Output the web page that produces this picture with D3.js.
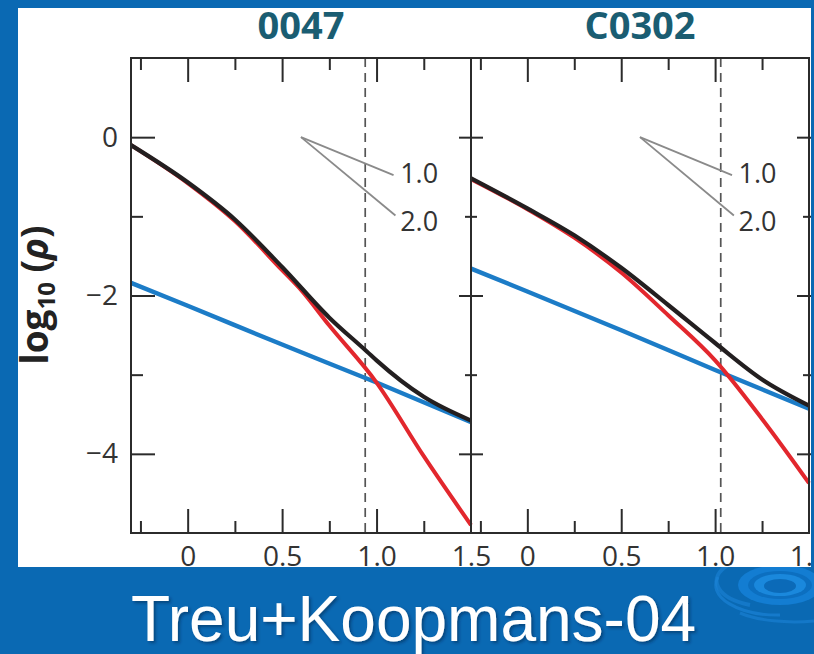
<!DOCTYPE html>
<html><head><meta charset="utf-8">
<script src="https://cdn.jsdelivr.net/npm/d3@7"></script>
<style>body{margin:0;padding:0;background:#0a69b3}svg{display:block}</style>
</head><body>
<script>
// ---------- data ----------
const panelNames = ["0047", "C0302"];
const xMajorTicks = [0, 0.5, 1.0, 1.5];
const xMinorTicks = [-0.25, 0.25, 0.75, 1.25];
const yMajorTicks = [0, -2, -4];
const yMinorTicks = [-1, -3];
const xTickLabels = ["0", "0.5", "1.0", "1.5"];
const yTickLabels = ["0", "\u22122", "\u22124"];

// panel 0047
const black0047X = [-0.3, 0, 0.25, 0.5, 0.75, 0.95, 1.0, 1.25, 1.5];
const black0047Y = [-0.10, -0.57, -1.04, -1.64, -2.28, -2.71, -2.82, -3.28, -3.58];
const red0047X   = [-0.3, 0, 0.25, 0.5, 0.6, 0.75, 1.0, 1.25, 1.5];
const red0047Y   = [-0.10, -0.58, -1.06, -1.68, -1.93, -2.38, -3.10, -4.03, -4.90];
const blue0047X  = [-0.3, 0, 0.5, 1.0, 1.5];
const blue0047Y  = [-1.84, -2.13, -2.62, -3.10, -3.60];
const dash0047 = 0.94;

// panel C0302
const blackC0302X = [-0.3, 0, 0.25, 0.5, 0.75, 1.0, 1.25, 1.5];
const blackC0302Y = [-0.52, -0.90, -1.24, -1.65, -2.12, -2.60, -3.06, -3.39];
const redC0302X   = [-0.3, 0, 0.25, 0.5, 0.75, 1.0, 1.25, 1.5];
const redC0302Y   = [-0.53, -0.91, -1.27, -1.71, -2.25, -2.82, -3.56, -4.37];
const blueC0302X  = [-0.3, 0, 0.5, 1.0, 1.5];
const blueC0302Y  = [-1.66, -1.95, -2.44, -2.94, -3.43];
const dashC0302 = 1.03;

// slope guide annotation (data coords)
const guideStart = [0.6, 0];
const guideEnds = [[1.09, -0.48], [1.10, -0.99]];
const guideLabels = ["1.0", "2.0"];
const guideLabelPos = [[1.125, -0.58], [1.125, -1.18]];

const footer = "Treu+Koopmans-04";

// ---------- drawing ----------
const W = 814, H = 654;
const svg = d3.select("body").append("svg").attr("width", W).attr("height", H);
const defs = svg.append("defs");
defs.append("clipPath").attr("id", "clipWhite").append("rect")
  .attr("x", 18).attr("y", 8).attr("width", 793).attr("height", 559);
const sh = defs.append("filter").attr("id", "shadow").attr("x", "-5%").attr("y", "-20%").attr("width", "110%").attr("height", "140%");
sh.append("feDropShadow").attr("dx", 2).attr("dy", 2).attr("stdDeviation", 1.5)
  .attr("flood-color", "#002244").attr("flood-opacity", 0.5);

svg.append("rect").attr("width", W).attr("height", H).attr("fill", "#0a69b3");

// swirl decoration
const sw = svg.append("g").attr("transform", "translate(780,585)");
sw.append("path").attr("d", "M-62,-8 A62,30 0 0,0 0,30").attr("fill", "none").attr("stroke", "#1a82d6").attr("stroke-width", 3).attr("opacity", 0.7);
sw.append("path").attr("d", "M-52,-20 A54,26 0 0,0 -30,20").attr("fill", "none").attr("stroke", "#1a82d6").attr("stroke-width", 4).attr("opacity", 0.6);
sw.append("path").attr("d", "M-40,28 A70,24 0 0,0 34,36").attr("fill", "none").attr("stroke", "#1a82d6").attr("stroke-width", 3).attr("opacity", 0.6);
sw.append("ellipse").attr("rx", 42).attr("ry", 20).attr("fill", "#137dd2");
sw.append("ellipse").attr("rx", 32).attr("ry", 14).attr("fill", "#0c6fc0");
sw.append("ellipse").attr("rx", 26).attr("ry", 11).attr("fill", "#1a88dc");
sw.append("ellipse").attr("cy", 1).attr("rx", 16).attr("ry", 7).attr("fill", "#0b6ab8");

svg.append("rect").attr("x", 18).attr("y", 8).attr("width", 793).attr("height", 559).attr("fill", "#fff");

const g = svg.append("g").attr("clip-path", "url(#clipWhite)");

const y = d3.scaleLinear().domain([-5, 1]).range([533, 58]);
const fontTick = "'Open Sans', 'Noto Sans', sans-serif";
const axisColor = "#2b2b2b";

const panels = [
  {name: panelNames[0], range: [131, 471], dash: dash0047,
   series: [
     {x: blue0047X, y: blue0047Y, color: "#1c7cc7", w: 4.4},
     {x: red0047X, y: red0047Y, color: "#e2272d", w: 4},
     {x: black0047X, y: black0047Y, color: "#231f20", w: 4.2}],
   leftTicks: 24},
  {name: panelNames[1], range: [471, 809], dash: dashC0302,
   series: [
     {x: blueC0302X, y: blueC0302Y, color: "#1c7cc7", w: 4.4},
     {x: redC0302X, y: redC0302Y, color: "#e2272d", w: 4},
     {x: blackC0302X, y: blackC0302Y, color: "#231f20", w: 4.2}],
   leftTicks: 12}
];

function styleAxis(sel) {
  sel.select(".domain").remove();
  sel.selectAll("line").attr("stroke", axisColor).attr("stroke-width", 2);
  sel.selectAll("text").attr("fill", "#333").attr("font-family", fontTick).attr("font-size", 28);
}

panels.forEach((p, i) => {
  const x = d3.scaleLinear().domain([-0.3, 1.5]).range(p.range);
  const pg = g.append("g");

  pg.append("line").attr("x1", x(p.dash)).attr("x2", x(p.dash))
    .attr("y1", y(1)).attr("y2", y(-5))
    .attr("stroke", "#555").attr("stroke-width", 1.7).attr("stroke-dasharray", "9,6");

  guideEnds.forEach((e, k) => {
    pg.append("line").attr("x1", x(guideStart[0])).attr("y1", y(guideStart[1]))
      .attr("x2", x(e[0])).attr("y2", y(e[1]))
      .attr("stroke", "#8a8a8a").attr("stroke-width", 1.8);
    pg.append("text").attr("x", x(guideLabelPos[k][0])).attr("y", y(guideLabelPos[k][1]))
      .attr("font-family", fontTick).attr("font-size", 27).attr("fill", "#333")
      .text(guideLabels[k]);
  });

  p.series.forEach(s => {
    const pts = s.x.map((v, k) => [v, s.y[k]]);
    pg.append("path").datum(pts)
      .attr("d", d3.line().x(d => x(d[0])).y(d => y(d[1])).curve(d3.curveMonotoneX))
      .attr("fill", "none").attr("stroke", s.color).attr("stroke-width", s.w)
      .attr("stroke-linejoin", "round");
  });

  pg.append("rect").attr("x", p.range[0]).attr("y", y(1))
    .attr("width", p.range[1] - p.range[0]).attr("height", y(-5) - y(1))
    .attr("fill", "none").attr("stroke", axisColor).attr("stroke-width", 2);

  [[xMajorTicks, 24], [xMinorTicks, 12]].forEach(([vals, len]) => {
    const inside = vals.filter(v => v > -0.3 && v < 1.5);
    const b = pg.append("g").attr("transform", `translate(0,${y(-5)})`)
      .call(d3.axisTop(x).tickValues(inside).tickSize(len).tickFormat(""));
    styleAxis(b);
    const t = pg.append("g").attr("transform", `translate(0,${y(1)})`)
      .call(d3.axisBottom(x).tickValues(inside).tickSize(len).tickFormat(""));
    styleAxis(t);
  });
  const xl = pg.append("g").attr("transform", `translate(0,${y(-5)})`)
    .call(d3.axisBottom(x).tickValues(xMajorTicks).tickSize(0).tickPadding(13)
      .tickFormat((d, k) => xTickLabels[k]));
  styleAxis(xl);

  const lenMaj = p.leftTicks, lenMin = p.leftTicks / 2;
  [[yMajorTicks, lenMaj], [yMinorTicks, lenMin]].forEach(([vals, len]) => {
    const a = pg.append("g").attr("transform", `translate(${p.range[0]},0)`)
      .call(d3.axisRight(y).tickValues(vals).tickSize(len).tickFormat(""));
    styleAxis(a);
    if (i > 0) {
      const a2 = pg.append("g").attr("transform", `translate(${p.range[0]},0)`)
        .call(d3.axisLeft(y).tickValues(vals).tickSize(len).tickFormat(""));
      styleAxis(a2);
    }
  });
  if (i === panels.length - 1) {
    [[yMajorTicks, 12], [yMinorTicks, 6]].forEach(([vals, len]) => {
      const a = pg.append("g").attr("transform", `translate(${p.range[1]},0)`)
        .call(d3.axisLeft(y).tickValues(vals).tickSize(len).tickFormat(""));
      styleAxis(a);
      const a2 = pg.append("g").attr("transform", `translate(${p.range[1]},0)`)
        .call(d3.axisRight(y).tickValues(vals).tickSize(len).tickFormat(""));
      styleAxis(a2);
    });
  }
  if (i === 0) {
    const yl = pg.append("g").attr("transform", `translate(${p.range[0]},0)`)
      .call(d3.axisLeft(y).tickValues(yMajorTicks).tickSize(0).tickPadding(13)
        .tickFormat((d, k) => yTickLabels[k]));
    styleAxis(yl);
  }

  // title (outside clip)
  svg.append("text").attr("x", (p.range[0] + p.range[1]) / 2).attr("y", 39)
    .attr("text-anchor", "middle").attr("font-family", "'Open Sans', sans-serif")
    .attr("font-weight", "bold").attr("font-size", 38).attr("fill", "#1a5d72")
    .text(p.name);
});

// y axis title
const yt = g.append("text").attr("transform", "translate(48,295) rotate(-90)")
  .attr("text-anchor", "middle").attr("font-family", "'Open Sans', sans-serif")
  .attr("font-weight", "bold").attr("font-size", 37).attr("fill", "#222");
yt.append("tspan").text("log");
yt.append("tspan").attr("font-size", 24).attr("dy", 7).text("10");
yt.append("tspan").attr("dy", -7).text(" (");
yt.append("tspan").attr("font-style", "italic").text("ρ");
yt.append("tspan").text(")");

// footer
svg.append("text").attr("x", 131).attr("y", 641)
  .attr("font-family", "'Liberation Sans', Arial, sans-serif").attr("font-size", 64)
  .attr("fill", "#fff").attr("filter", "url(#shadow)").text(footer);
</script>
</body></html>
